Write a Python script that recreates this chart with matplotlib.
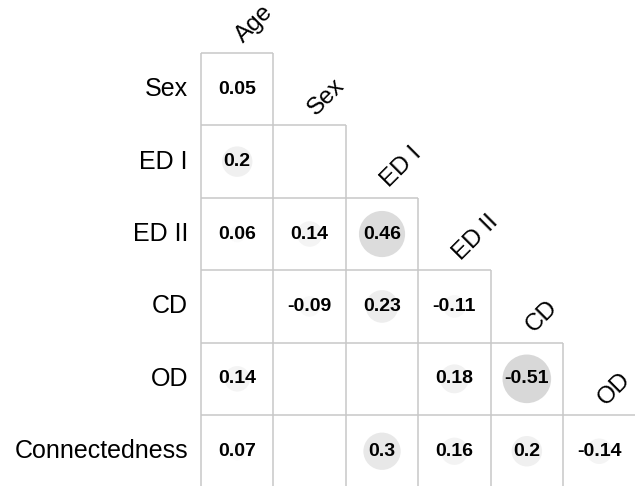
import numpy as np
import matplotlib
matplotlib.use("Agg")
from matplotlib import pyplot as plt
from matplotlib.patches import Circle

plt.rcParams['font.family'] = ['Liberation Sans', 'DejaVu Sans']

row_labels = ["Sex", "ED I", "ED II", "CD", "OD", "Connectedness"]
col_labels = ["Age", "Sex", "ED I", "ED II", "CD", "OD"]
nan = np.nan
# lower triangle, row i has i+1 entries (NaN = not shown)
corr = [
    [0.05],
    [0.2, nan],
    [0.06, 0.14, 0.46],
    [nan, -0.09, 0.23, -0.11],
    [0.14, nan, nan, 0.18, -0.51],
    [0.07, nan, 0.3, 0.16, 0.2, -0.14],
]

fig = plt.figure(figsize=(6.35, 4.86), dpi=100)
ax = fig.add_axes([0, 0, 1, 1])
ax.set_xlim(-2.776, 5.994)
ax.set_ylim(5.98, -0.732)
ax.axis("off")

grid_c = "#c8c8c8"
n = len(row_labels)

# Grid: horizontal lines at top of each row, vertical lines from each column's top
for i in range(n):
    ax.plot([0, i + 1], [i, i], color=grid_c, lw=1.1, solid_capstyle="butt")
for j in range(n):
    top = max(j - 1, 0)
    ax.plot([j, j], [top, n], color=grid_c, lw=1.1, solid_capstyle="butt")

# Circles and values
for i, row in enumerate(corr):
    for j, v in enumerate(row):
        if np.isnan(v):
            continue
        cx, cy = j + 0.5, i + 0.5
        g = 1 - 0.3 * abs(v)
        ax.add_patch(Circle((cx, cy), 0.47 * np.sqrt(abs(v)),
                            facecolor=(g, g, g), edgecolor="none", zorder=1))
        ax.text(cx, cy, f"{v:g}", ha="center", va="center",
                fontsize=14, fontweight="bold", zorder=2)

# Row labels
for i, lab in enumerate(row_labels):
    ax.text(-0.18, i + 0.5, lab, ha="right", va="center", fontsize=18)

# Column labels (rotated)
for j, lab in enumerate(col_labels):
    ax.text(j + 0.64, j - 0.08, lab, rotation=45, rotation_mode="anchor",
            ha="left", va="bottom", fontsize=17.5)

fig.savefig("out.png", dpi=100)
